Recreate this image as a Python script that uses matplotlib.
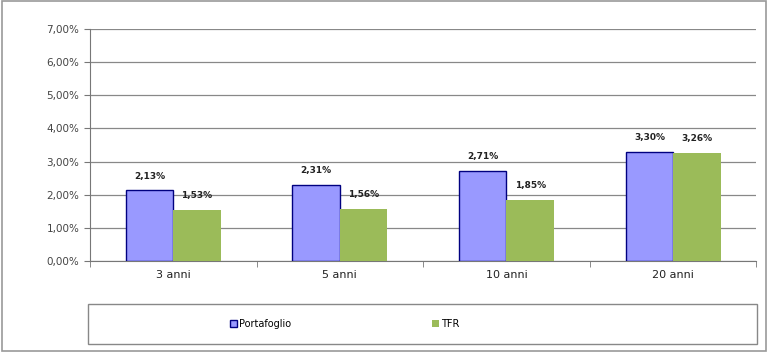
import matplotlib.pyplot as plt
import numpy as np
from matplotlib.patches import Rectangle
from matplotlib.ticker import FuncFormatter

categories = ["3 anni", "5 anni", "10 anni", "20 anni"]
portafoglio = [2.13, 2.31, 2.71, 3.30]
tfr = [1.53, 1.56, 1.85, 3.26]
series_names = ["Portafoglio", "TFR"]

blue = "#9999FF"
green = "#9BBB59"


def pct(v, _=None):
    return f"{v:.2f}%".replace(".", ",")


fig = plt.figure(figsize=(7.68, 3.52), dpi=100)
# outer chart frame
fig.patches.append(Rectangle((0.002, 0.004), 0.995, 0.992, transform=fig.transFigure,
                             fill=False, edgecolor="#999999", lw=1.2))
# legend box spans the width of the plot area
fig.patches.append(Rectangle((0.1146, 0.023), 0.871, 0.113, transform=fig.transFigure,
                             fill=False, edgecolor="#888888", lw=1.0))

ax = fig.add_axes([0.117, 0.258, 0.868, 0.66])
x = np.arange(len(categories))
w = 0.285
b1 = ax.bar(x - w / 2, portafoglio, w, color=blue, edgecolor="#000080", lw=1.0,
            label=series_names[0], zorder=3)
b2 = ax.bar(x + w / 2, tfr, w, color=green, edgecolor=green, lw=0,
            label=series_names[1], zorder=3)

for bars, vals in ((b1, portafoglio), (b2, tfr)):
    for r, v in zip(bars, vals):
        ax.text(r.get_x() + r.get_width() / 2, v + 0.3, pct(v), ha="center", va="bottom",
                fontsize=6.5, fontweight="bold", color="#222222")

ax.set_xlim(-0.5, len(categories) - 0.5)
ax.set_ylim(0, 7)
ax.set_yticks(np.arange(0, 7.01, 1))
ax.yaxis.set_major_formatter(FuncFormatter(pct))
ax.set_xticks(x)
ax.set_xticklabels(categories)
ax.set_xticks(np.arange(-0.5, len(categories)), minor=True)
ax.tick_params(axis="x", which="major", length=0, labelsize=8, colors="#222222", pad=6)
ax.tick_params(axis="x", which="minor", length=4, color="#777777")
ax.tick_params(axis="y", length=4, color="#777777", labelsize=7.5, labelcolor="#444444")
ax.grid(axis="y", color="#888888", lw=0.9, zorder=0)
for s in ("top", "right"):
    ax.spines[s].set_visible(False)
for s in ("left", "bottom"):
    ax.spines[s].set_color("#777777")

fig.legend(handles=[b1, b2], labels=series_names, loc="center",
           bbox_to_anchor=(0.449, 0.0795), ncol=2, fontsize=7, frameon=False,
           handlelength=0.7, handleheight=0.7, handletextpad=0.2,
           columnspacing=14.5)

fig.savefig("out.png", dpi=100)
